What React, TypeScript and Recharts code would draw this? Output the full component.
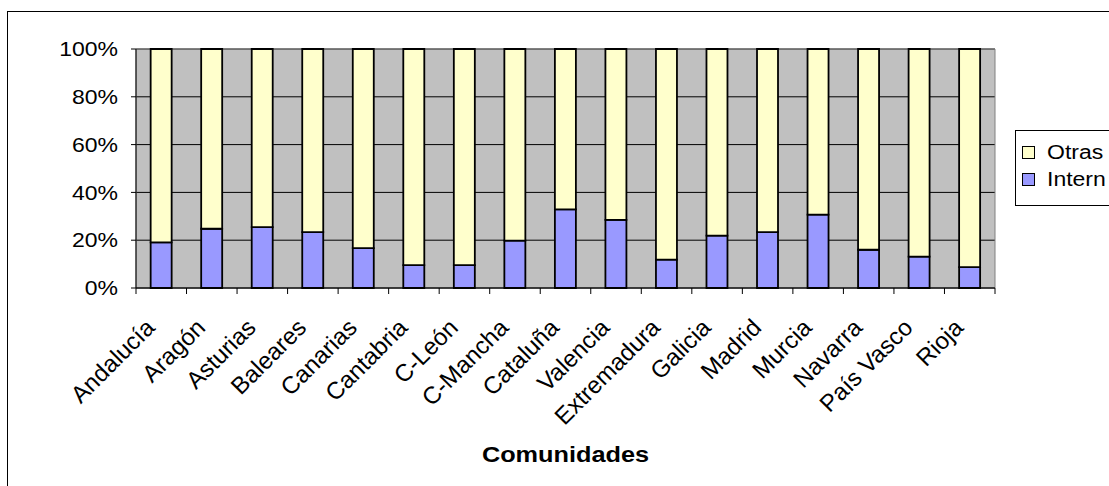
import React from 'react';
import {
  BarChart,
  Bar,
  XAxis,
  YAxis,
  CartesianGrid,
  ReferenceArea,
} from 'recharts';

const categories = [
  'Andalucía', 'Aragón', 'Asturias', 'Baleares', 'Canarias', 'Cantabria', 'C-León',
  'C-Mancha', 'Cataluña', 'Valencia', 'Extremadura', 'Galicia', 'Madrid', 'Murcia',
  'Navarra', 'País Vasco', 'Rioja',
];
const internValues = [19.1, 24.8, 25.5, 23.4, 16.7, 9.6, 9.6, 19.8, 32.9, 28.5, 11.9, 21.9, 23.4, 30.7, 16.0, 13.1, 8.7];
const otrasValues = [80.9, 75.2, 74.5, 76.6, 83.3, 90.4, 90.4, 80.2, 67.1, 71.5, 88.1, 78.1, 76.6, 69.3, 84.0, 86.9, 91.3];
const yTicks = [0, 20, 40, 60, 80, 100];
const legendItems = [
  { name: 'Otras', color: '#FFFFCC' },
  { name: 'Intern', color: '#9999FF' },
];
const axisTitle = 'Comunidades';

const data = categories.map((c, i) => ({ name: c, intern: internValues[i], otras: otrasValues[i] }));

const FONT = '"Liberation Sans", Arial, sans-serif';
const STRETCH = 1.15;

const YTick = (props: any) => {
  const { x, y, payload } = props;
  return (
    <g transform={`translate(${x},${y}) scale(${STRETCH},1)`}>
      <text x={0} y={0} dy="0.36em" textAnchor="end" fontSize={20} fontFamily={FONT} fill="#000">
        {`${payload.value}%`}
      </text>
    </g>
  );
};

const XTick = (props: any) => {
  const { x, y, payload, index, visibleTicksCount } = props;
  const half = payload.offset || 0;
  const isLast = index === (visibleTicksCount || categories.length) - 1;
  return (
    <g>
      <line x1={x - half} x2={x - half} y1={y} y2={y + 6} stroke="#000" strokeWidth={1} />
      {isLast && <line x1={x + half} x2={x + half} y1={y} y2={y + 6} stroke="#000" strokeWidth={1} />}
      <g transform={`translate(${x - 5},${y + 41}) rotate(-45)`}>
        <text x={0} y={0} textAnchor="end" fontSize={24} fontFamily={FONT} fill="#000">
          {payload.value}
        </text>
      </g>
    </g>
  );
};

const AxisTitle = (props: any) => {
  const vb = props.viewBox || { x: 136, y: 288, width: 859, height: 198 };
  const cx = vb.x + vb.width / 2;
  return (
    <g transform={`translate(${cx},${vb.y + 174}) scale(${STRETCH},1)`}>
      <text x={0} y={0} textAnchor="middle" fontSize={22} fontWeight="bold" fontFamily={FONT} fill="#000">
        {axisTitle}
      </text>
    </g>
  );
};

export default function App() {
  return (
    <div
      style={{
        position: 'absolute',
        left: 0,
        top: 0,
        width: 1109,
        height: 486,
        overflow: 'hidden',
        background: '#fff',
        fontFamily: FONT,
      }}
    >
      <div
        style={{
          position: 'absolute',
          left: 7,
          top: 11,
          width: 1200,
          height: 600,
          border: '1px solid #000',
          boxSizing: 'border-box',
        }}
      />
      <div style={{ position: 'absolute', left: 0, top: 0 }}>
        <BarChart
          width={1109}
          height={486}
          data={data}
          margin={{ top: 49, right: 114, left: 0, bottom: 0 }}
          barCategoryGap="29%"
        >
          <CartesianGrid vertical={false} horizontal stroke="#000" strokeWidth={1} fill="#C0C0C0" fillOpacity={1} />
          <ReferenceArea
            x1={categories[0]}
            x2={categories[categories.length - 1]}
            y1={0}
            y2={100}
            fill="none"
            stroke="#808080"
            strokeWidth={1}
            ifOverflow="visible"
          />
          <XAxis
            dataKey="name"
            type="category"
            interval={0}
            height={198}
            tickSize={0}
            tickMargin={0}
            axisLine={{ stroke: '#000' }}
            tickLine={false}
            tick={<XTick />}
            label={<AxisTitle />}
          />
          <YAxis
            width={136}
            domain={[0, 100]}
            ticks={yTicks}
            tickSize={5}
            tickMargin={13}
            tickLine={{ stroke: '#000' }}
            axisLine={{ stroke: '#000' }}
            tick={<YTick />}
          />
          <Bar
            dataKey="intern"
            name="Intern"
            stackId="s"
            fill="#9999FF"
            stroke="#000"
            strokeWidth={1.8}
            isAnimationActive={false}
          />
          <Bar
            dataKey="otras"
            name="Otras"
            stackId="s"
            fill="#FFFFCC"
            stroke="#000"
            strokeWidth={1.8}
            isAnimationActive={false}
          />
        </BarChart>
      </div>
      <div
        style={{
          position: 'absolute',
          left: 1015,
          top: 130,
          border: '1px solid #000',
          background: '#fff',
          width: 110,
          height: 76,
          boxSizing: 'border-box',
          paddingTop: 8,
          paddingLeft: 6,
        }}
      >
        {legendItems.map((p) => (
          <div key={p.name} style={{ display: 'flex', alignItems: 'center', height: 27 }}>
            <span
              style={{
                display: 'inline-block',
                width: 11,
                height: 11,
                background: p.color,
                border: '1px solid #000',
                marginRight: 12,
              }}
            />
            <span
              style={{
                fontFamily: FONT,
                fontSize: 20,
                color: '#000',
                display: 'inline-block',
                transform: `scaleX(${STRETCH})`,
                transformOrigin: 'left center',
                whiteSpace: 'nowrap',
              }}
            >
              {p.name}
            </span>
          </div>
        ))}
      </div>
    </div>
  );
}
